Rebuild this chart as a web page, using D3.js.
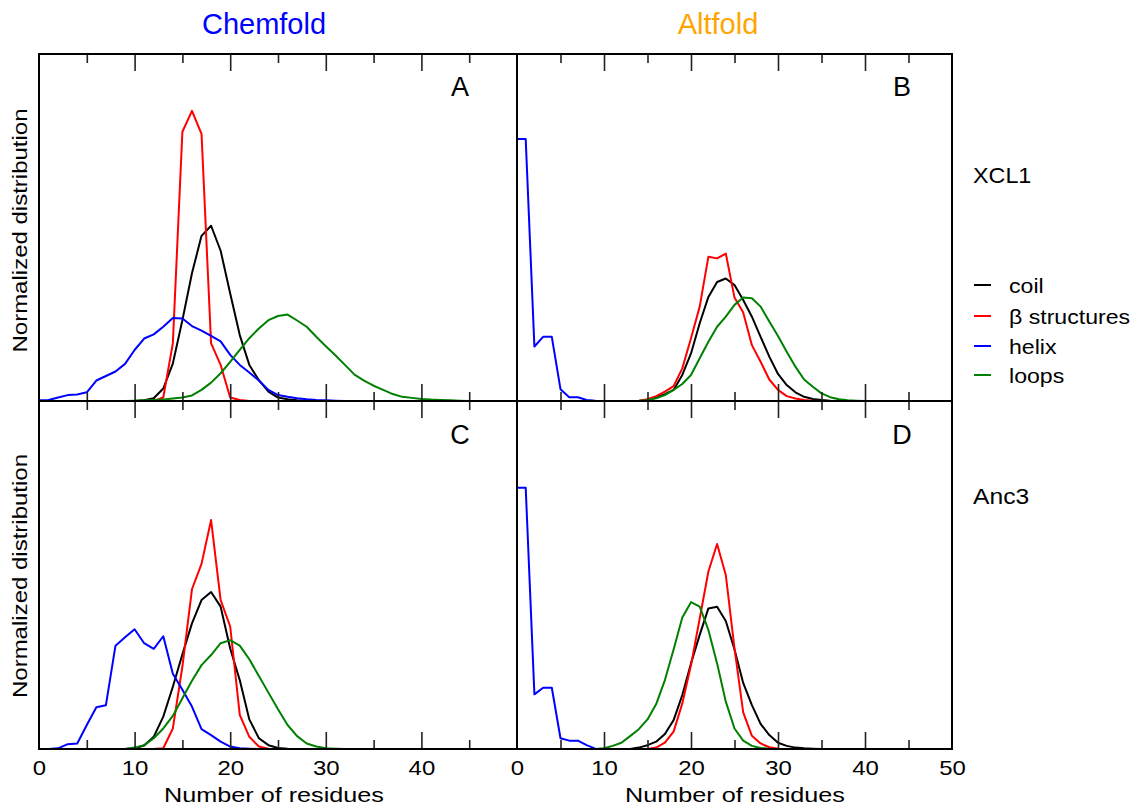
<!DOCTYPE html>
<html>
<head>
<meta charset="utf-8">
<script src="https://cdn.jsdelivr.net/npm/d3@7"></script>
<style>
  html, body { margin: 0; padding: 0; background: #fff; }
  svg { display: block; font-family: "Liberation Sans", Arial, sans-serif; }
</style>
</head>
<body>
<svg id="chart" width="1140" height="808"></svg>
<script>
// ---------------- DATA ----------------
const residues = [0,1,2,3,4,5,6,7,8,9,10,11,12,13,14,15,16,17,18,19,20,21,22,23,24,25,26,27,28,29,30,31,32,33,34,35,36,37,38,39,40,41,42,43,44,45,46,47,48,49];
const seriesNames = ["coil", "β structures", "helix", "loops"];
const seriesColors = ["#000000", "#ff0000", "#0000ff", "#008000"];
const columnTitles = ["Chemfold", "Altfold"];
const rowTitles = ["XCL1", "Anc3"];
const panelLetters = ["A", "B", "C", "D"];
const leftTickLabels = [0, 10, 20, 30, 40];
const rightTickLabels = [0, 10, 20, 30, 40, 50];
const majorTicks = [10, 20, 30, 40];
const minorTicks = [5, 15, 25, 35, 45];

// Panel A : Chemfold / XCL1
const A_coil = [0,0,0,0,0,0,0,0,0,0,
  0,0.002,0.008,0.036,0.108,0.233,0.368,0.476,0.505,0.433,
  0.31,0.19,0.104,0.06,0.027,0.01,0.005,0.002,0,0,
  0,0,0,0,0,0,0,0,0,0,
  0,0,0,0,0,0,0,0,0,0];
const A_beta = [0,0,0,0,0,0,0,0,0,0,
  0,0,0,0.01,0.166,0.776,0.836,0.77,0.166,0.104,
  0.01,0.003,0,0,0,0,0,0,0,0,
  0,0,0,0,0,0,0,0,0,0,
  0,0,0,0,0,0,0,0,0,0];
const A_helix = [0.002,0.003,0.01,0.017,0.019,0.025,0.059,0.072,0.085,0.107,
  0.147,0.18,0.192,0.214,0.239,0.238,0.216,0.203,0.188,0.172,
  0.133,0.104,0.082,0.059,0.032,0.017,0.012,0.008,0.005,0.003,
  0.002,0.001,0,0,0,0,0,0,0,0,
  0,0,0,0,0,0,0,0,0,0];
const A_loops = [0,0,0,0,0,0,0,0,0,0,
  0.001,0.002,0.003,0.004,0.007,0.01,0.016,0.032,0.053,0.08,
  0.113,0.147,0.181,0.209,0.233,0.245,0.249,0.232,0.214,0.185,
  0.158,0.132,0.104,0.076,0.059,0.044,0.032,0.02,0.012,0.009,
  0.006,0.004,0.003,0.002,0.001,0,0,0,0,0];

// Panel B : Altfold / XCL1
const B_coil = [0,0,0,0,0,0,0,0,0,0,
  0,0,0,0,0,0.003,0.01,0.02,0.032,0.075,
  0.137,0.224,0.3,0.343,0.353,0.334,0.291,0.243,0.185,0.128,
  0.078,0.046,0.025,0.012,0.006,0.003,0.001,0,0,0,
  0,0,0,0,0,0,0,0,0,0];
const B_beta = [0,0,0,0,0,0,0,0,0,0,
  0,0,0,0,0.001,0.005,0.014,0.027,0.043,0.094,
  0.181,0.272,0.416,0.411,0.425,0.298,0.255,0.161,0.113,0.062,
  0.032,0.014,0.007,0.003,0.001,0,0,0,0,0,
  0,0,0,0,0,0,0,0,0,0];
const B_helix = [0.755,0.755,0.157,0.185,0.185,0.034,0.011,0.011,0.003,0.001,
  0,0,0,0,0,0,0,0,0,0,
  0,0,0,0,0,0,0,0,0,0,
  0,0,0,0,0,0,0,0,0,0,
  0,0,0,0,0,0,0,0,0,0];
const B_loops = [0,0,0,0,0,0,0,0,0,0,
  0,0,0,0,0,0.003,0.008,0.017,0.032,0.049,
  0.075,0.123,0.171,0.214,0.243,0.277,0.298,0.296,0.272,0.229,
  0.187,0.142,0.099,0.062,0.041,0.022,0.011,0.005,0.002,0.001,
  0,0,0,0,0,0,0,0,0,0];

// Panel C : Chemfold / Anc3
const C_coil = [0,0,0,0,0,0,0,0,0,0,
  0.002,0.01,0.035,0.093,0.179,0.272,0.361,0.428,0.451,0.409,
  0.289,0.198,0.085,0.031,0.011,0.003,0.001,0,0,0,
  0,0,0,0,0,0,0,0,0,0,
  0,0,0,0,0,0,0,0,0,0];
const C_beta = [0,0,0,0,0,0,0,0,0,0,
  0,0,0,0.002,0.059,0.237,0.459,0.532,0.658,0.428,
  0.352,0.098,0.035,0.007,0.001,0,0,0,0,0,
  0,0,0,0,0,0,0,0,0,0,
  0,0,0,0,0,0,0,0,0,0];
const C_helix = [0,0,0.002,0.014,0.016,0.069,0.12,0.126,0.297,0.321,
  0.344,0.304,0.288,0.324,0.216,0.17,0.122,0.057,0.04,0.021,
  0.007,0.002,0.001,0,0,0,0,0,0,0,
  0,0,0,0,0,0,0,0,0,0,
  0,0,0,0,0,0,0,0,0,0];
const C_loops = [0,0,0,0,0,0,0,0,0,0,
  0.004,0.011,0.031,0.059,0.095,0.146,0.196,0.241,0.27,0.304,
  0.313,0.297,0.258,0.21,0.162,0.114,0.069,0.037,0.016,0.007,
  0.002,0.001,0,0,0,0,0,0,0,0,
  0,0,0,0,0,0,0,0,0,0];

// Panel D : Altfold / Anc3
const D_coil = [0,0,0,0,0,0,0,0,0,0,
  0,0,0,0,0.004,0.011,0.021,0.043,0.083,0.155,
  0.246,0.328,0.404,0.409,0.368,0.286,0.19,0.126,0.072,0.04,
  0.018,0.009,0.004,0.002,0.001,0,0,0,0,0,
  0,0,0,0,0,0,0,0,0,0];
const D_beta = [0,0,0,0,0,0,0,0,0,0,
  0,0,0,0,0,0,0.004,0.018,0.05,0.131,
  0.241,0.375,0.51,0.589,0.5,0.289,0.105,0.038,0.016,0.005,
  0.001,0,0,0,0,0,0,0,0,0,
  0,0,0,0,0,0,0,0,0,0];
const D_helix = [0.751,0.751,0.157,0.176,0.176,0.031,0.024,0.024,0.011,0.001,
  0,0,0,0,0,0,0,0,0,0,
  0,0,0,0,0,0,0,0,0,0,
  0,0,0,0,0,0,0,0,0,0,
  0,0,0,0,0,0,0,0,0,0];
const D_loops = [0,0,0,0,0,0,0,0,0,0,
  0.002,0.009,0.018,0.037,0.057,0.085,0.129,0.198,0.286,0.378,
  0.422,0.409,0.342,0.246,0.136,0.059,0.024,0.009,0.003,0.001,
  0,0,0,0,0,0,0,0,0,0,
  0,0,0,0,0,0,0,0,0,0];

// ---------------- LAYOUT ----------------
const svg = d3.select("#chart");
svg.append("rect").attr("width", 1140).attr("height", 808).attr("fill", "#fff");

const colX = [[39, 517], [517, 952]];
const rowY = [[54, 401], [401, 749]];

const panels = [
  { col: 0, row: 0, letter: panelLetters[0], series: [A_coil, A_beta, A_helix, A_loops] },
  { col: 1, row: 0, letter: panelLetters[1], series: [B_coil, B_beta, B_helix, B_loops] },
  { col: 0, row: 1, letter: panelLetters[2], series: [C_coil, C_beta, C_helix, C_loops] },
  { col: 1, row: 1, letter: panelLetters[3], series: [D_coil, D_beta, D_helix, D_loops] }
];

function stretch(sel, k) {
  sel.each(function () {
    const L = this.getComputedTextLength();
    this.setAttribute("textLength", L * k);
    this.setAttribute("lengthAdjust", "spacingAndGlyphs");
  });
}

panels.forEach(p => {
  const [x0, x1] = colX[p.col];
  const [yt, yb] = rowY[p.row];
  const x = d3.scaleLinear().domain([0, 50]).range([x0, x1]);
  const y = d3.scaleLinear().domain([0, 1]).range([yb, yt]);
  const g = svg.append("g");

  // data lines
  const line = d3.line().x((d, i) => x(residues[i])).y(d => y(d));
  p.series.forEach((vals, si) => {
    g.append("path")
      .datum(vals)
      .attr("d", line)
      .attr("fill", "none")
      .attr("stroke", seriesColors[si])
      .attr("stroke-width", 2)
      .attr("stroke-linejoin", "round");
  });

  // inward ticks
  const tickStyle = sel => {
    sel.select(".domain").remove();
    sel.selectAll(".tick line").attr("stroke", "#222").attr("stroke-width", 1.6);
    sel.selectAll(".tick text").remove();
  };
  g.append("g").attr("transform", `translate(0,${yt})`)
    .call(d3.axisBottom(x).tickValues(majorTicks).tickSize(17).tickFormat("")).call(tickStyle);
  g.append("g").attr("transform", `translate(0,${yt})`)
    .call(d3.axisBottom(x).tickValues(minorTicks).tickSize(9).tickFormat("")).call(tickStyle);
  g.append("g").attr("transform", `translate(0,${yb})`)
    .call(d3.axisTop(x).tickValues(majorTicks).tickSize(17).tickFormat("")).call(tickStyle);
  g.append("g").attr("transform", `translate(0,${yb})`)
    .call(d3.axisTop(x).tickValues(minorTicks).tickSize(9).tickFormat("")).call(tickStyle);

  // frame
  g.append("rect")
    .attr("x", x0).attr("y", yt)
    .attr("width", x1 - x0).attr("height", yb - yt)
    .attr("fill", "none").attr("stroke", "#000").attr("stroke-width", 2);

  // panel letter
  g.append("text")
    .attr("x", p.col === 0 ? 460 : 902)
    .attr("y", p.row === 0 ? 96 : 444)
    .attr("text-anchor", "middle")
    .attr("font-size", 27)
    .attr("fill", "#000")
    .text(p.letter);

  // bottom tick labels
  if (p.row === 1) {
    const lab = g.append("g").attr("transform", `translate(0,${yb})`)
      .call(d3.axisBottom(x)
        .tickValues(p.col === 0 ? leftTickLabels : rightTickLabels)
        .tickSize(0).tickPadding(11).tickFormat(d3.format("d")));
    lab.select(".domain").remove();
    lab.selectAll(".tick text")
      .attr("font-size", 21)
      .attr("font-family", "Liberation Sans, Arial, sans-serif")
      .attr("fill", "#000")
      .call(stretch, 1.14);

    svg.append("text")
      .attr("x", p.col === 0 ? 274 : 735)
      .attr("y", 802)
      .attr("text-anchor", "middle")
      .attr("font-size", 21)
      .text("Number of residues")
      .call(stretch, 1.2);
  }

  // y-axis title on left panels
  if (p.col === 0) {
    const cy = (yt + yb) / 2 + (p.row === 0 ? 3 : 1);
    svg.append("text")
      .attr("transform", `translate(27,${cy}) rotate(-90)`)
      .attr("text-anchor", "middle")
      .attr("font-size", 20)
      .text("Normalized distribution")
      .call(stretch, 1.2);
  }
});

// column titles
svg.append("text").attr("x", 264).attr("y", 34).attr("text-anchor", "middle")
  .attr("font-size", 29).attr("fill", "#0000ff").text(columnTitles[0]);
svg.append("text").attr("x", 718).attr("y", 34).attr("text-anchor", "middle")
  .attr("font-size", 29).attr("fill", "#ffa500").text(columnTitles[1]);

// row titles
svg.append("text").attr("x", 973).attr("y", 183).attr("font-size", 22)
  .text(rowTitles[0]).call(stretch, 1.06);
svg.append("text").attr("x", 973).attr("y", 504).attr("font-size", 22)
  .text(rowTitles[1]).call(stretch, 1.12);

// legend
const legY = [285, 316, 346, 375];
const leg = svg.append("g");
seriesNames.forEach((name, i) => {
  leg.append("line")
    .attr("x1", 974).attr("x2", 991)
    .attr("y1", legY[i]).attr("y2", legY[i])
    .attr("stroke", seriesColors[i]).attr("stroke-width", 2);
  leg.append("text")
    .attr("x", 1009).attr("y", legY[i] + 8)
    .attr("font-size", 21)
    .text(name)
    .call(stretch, 1.1);
});
</script>
</body>
</html>
